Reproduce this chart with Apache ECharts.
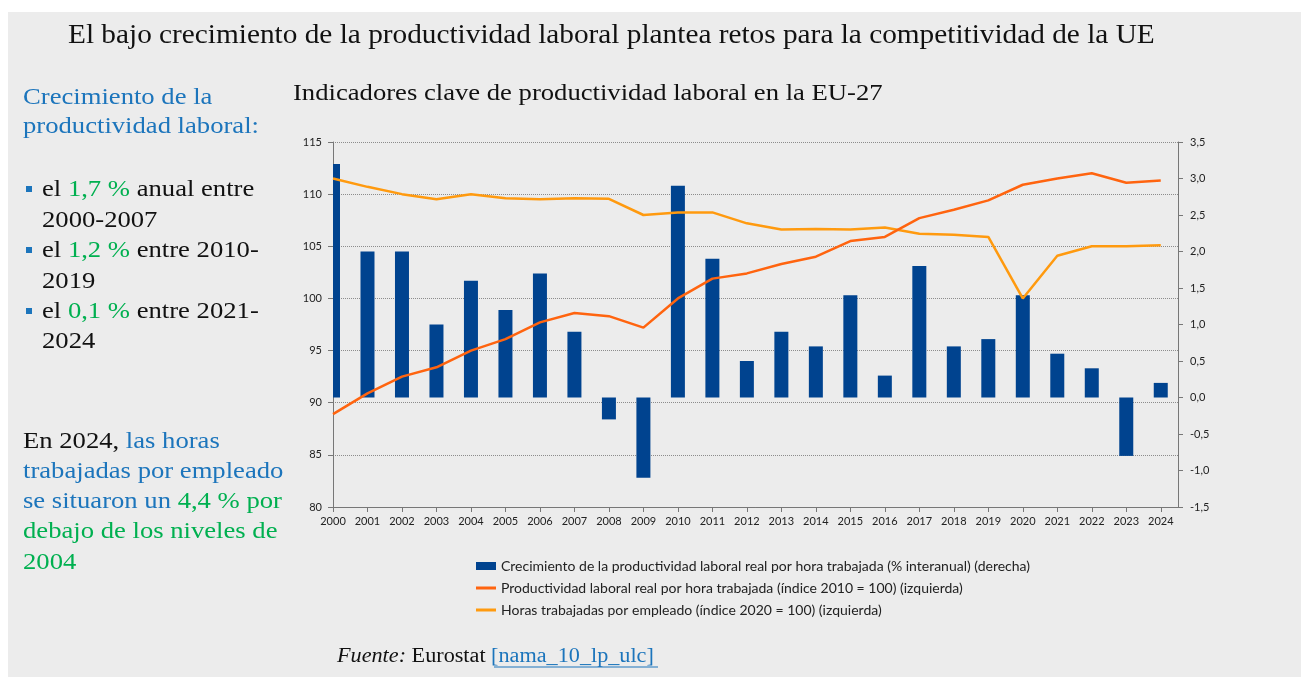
<!DOCTYPE html>
<html lang="es">
<head>
<meta charset="UTF-8">
<title>Productividad laboral EU-27</title>
<script src="https://cdn.jsdelivr.net/npm/echarts@6/dist/echarts.min.js"></script>
<style>
  body { margin: 0; background: #ffffff; }
  #panel { position: absolute; left: 8px; top: 12px; width: 1293px; height: 665px; background: #ececec; }
  #main { position: absolute; left: 0; top: 0; width: 1301px; height: 677px; }
</style>
</head>
<body>
<div id="panel"></div>
<div id="main"></div>
<script>
  // años
  var years = [2000, 2001, 2002, 2003, 2004, 2005, 2006, 2007, 2008, 2009, 2010, 2011, 2012,
               2013, 2014, 2015, 2016, 2017, 2018, 2019, 2020, 2021, 2022, 2023, 2024];
  // crecimiento productividad real por hora (% interanual) - eje derecho
  var crecimiento = [3.2, 2.0, 2.0, 1.0, 1.6, 1.2, 1.7, 0.9, -0.3, -1.1, 2.9, 1.9, 0.5,
                     0.9, 0.7, 1.4, 0.3, 1.8, 0.7, 0.8, 1.4, 0.6, 0.4, -0.8, 0.2];
  // productividad laboral real por hora (2010 = 100) - eje izquierdo
  var productividad = [88.9, 90.9, 92.5, 93.4, 95.0, 96.1, 97.7, 98.6, 98.3, 97.2, 100.0, 101.9, 102.4,
                       103.3, 104.0, 105.5, 105.9, 107.7, 108.5, 109.4, 110.9, 111.5, 112.0, 111.1, 111.3];
  // horas trabajadas por empleado (2020 = 100) - eje izquierdo
  var horas = [111.5, 110.7, 110.0, 109.5, 110.0, 109.6, 109.5, 109.6, 109.55, 108.0, 108.25, 108.25, 107.2,
               106.6, 106.65, 106.6, 106.8, 106.2, 106.1, 105.9, 100.0, 104.1, 105.0, 105.0, 105.1];

  var nombres = [
    'Crecimiento de la productividad laboral real por hora trabajada (% interanual) (derecha)',
    'Productividad laboral real por hora trabajada (índice 2010 = 100) (izquierda)',
    'Horas trabajadas por empleado (índice 2020 = 100) (izquierda)'
  ];

  var azul = '#1c75bc', verde = '#00b050', negro = '#111111', barra = '#00438f';
  var serif = '"Liberation Serif", "Times New Roman", serif';
  var estirar = 1.11; // el texto de la referencia esta algo ensanchado

  function par(arr) {
    return years.map(function (y, i) { return [y, arr[i]]; });
  }

  function linea(x, y, rich, text, size) {
    return {
      type: 'text', x: x, y: y, scaleX: estirar, silent: true,
      style: { text: text, rich: rich, font: size + 'px ' + serif, fill: negro, verticalAlign: 'middle' }
    };
  }

  var r = {
    k: { fontFamily: serif, fontSize: 24, fill: negro },
    b: { fontFamily: serif, fontSize: 24, fill: azul },
    g: { fontFamily: serif, fontSize: 24, fill: verde }
  };

  var graficos = [
    linea(68, 36, {}, 'El bajo crecimiento de la productividad laboral plantea retos para la competitividad de la UE', 26.4),
    linea(293, 94, {}, 'Indicadores clave de productividad laboral en la EU-27', 24),
    linea(23, 98, r, '{b|Crecimiento de la}', 24),
    linea(23, 127, r, '{b|productividad laboral:}', 24),
    linea(42, 190, r, '{k|el }{g|1,7 %}{k| anual entre}', 24),
    linea(42, 221, r, '{k|2000-2007}', 24),
    linea(42, 251, r, '{k|el }{g|1,2 %}{k| entre 2010-}', 24),
    linea(42, 282, r, '{k|2019}', 24),
    linea(42, 312, r, '{k|el }{g|0,1 %}{k| entre 2021-}', 24),
    linea(42, 342, r, '{k|2024}', 24),
    linea(23, 442, r, '{k|En 2024, }{b|las horas}', 24),
    linea(23, 472, r, '{b|trabajadas por empleado}', 24),
    linea(23, 502, r, '{b|se situaron un }{g|4,4 % por}', 24),
    linea(23, 532, r, '{g|debajo de los niveles de}', 24),
    linea(23, 563, r, '{g|2004}', 24),
    linea(337, 657, {
      i: { fontFamily: serif, fontSize: 20, fontStyle: 'italic', fill: negro },
      k: { fontFamily: serif, fontSize: 20, fill: negro },
      l: { fontFamily: serif, fontSize: 20, fill: azul }
    }, '{i|Fuente:}{k| Eurostat }{l|[nama_10_lp_ulc]}', 20),
    // subrayado del enlace
    { type: 'line', silent: true, shape: { x1: 494, y1: 667, x2: 658, y2: 667 },
      style: { stroke: azul, lineWidth: 1 } }
  ];
  // viñetas
  [189, 250, 311].forEach(function (cy) {
    graficos.push({ type: 'rect', silent: true, shape: { x: 26, y: cy - 3, width: 6, height: 6 }, style: { fill: azul } });
  });

  // barras recortadas al area del grid (la de 2000 queda partida por el eje, como en Excel)
  function pintarBarra(params, api) {
    var x = api.value(0), v = api.value(1);
    var p0 = api.coord([x, 0]);
    var p1 = api.coord([x, v]);
    var w = 14;
    var cs = params.coordSys;
    var rect = echarts.graphic.clipRectByRect(
      { x: p0[0] - w / 2, y: Math.min(p0[1], p1[1]), width: w, height: Math.abs(p1[1] - p0[1]) },
      { x: cs.x, y: cs.y, width: cs.width, height: cs.height }
    );
    return rect && { type: 'rect', shape: rect, style: { fill: barra } };
  }

  var chart = echarts.init(document.getElementById('main'));

  chart.setOption({
    animation: false,
    graphic: graficos,
    grid: { left: 333, right: 123, top: 142, bottom: 170, containLabel: false },
    legend: {
      orient: 'vertical', left: 476, top: 558, padding: 0,
      itemWidth: 20, itemHeight: 8, itemGap: 6,
      textStyle: { fontFamily: 'Lato', fontSize: 14, color: '#222', lineHeight: 16 },
      data: [
        { name: nombres[0], icon: 'rect' },
        { name: nombres[1], icon: 'path://M0,0 L20,0 L20,3 L0,3 Z' },
        { name: nombres[2], icon: 'path://M0,0 L20,0 L20,3 L0,3 Z' }
      ]
    },
    xAxis: {
      type: 'value', min: 2000, max: 2024.5, interval: 1,
      axisLine: { onZero: false, lineStyle: { color: '#777', width: 1 } },
      axisTick: { show: true, length: 5, lineStyle: { color: '#777' } },
      axisLabel: {
        margin: 9, showMaxLabel: false, showMinLabel: true,
        fontFamily: 'Lato', fontSize: 11, color: '#222',
        formatter: function (v) { return v % 1 === 0 ? String(v) : ''; }
      },
      splitLine: { show: false }
    },
    yAxis: [
      {
        type: 'value', min: 80, max: 115, interval: 5, position: 'left',
        axisLine: { show: true, lineStyle: { color: '#777' } },
        axisTick: { show: true, length: 5, lineStyle: { color: '#777' } },
        axisLabel: { margin: 11, fontFamily: 'Lato', fontSize: 11, color: '#222' },
        splitLine: { show: true, lineStyle: { color: '#8c8c8c', type: 'dotted', width: 1 } }
      },
      {
        type: 'value', min: -1.5, max: 3.5, interval: 0.5, position: 'right',
        axisLine: { show: true, lineStyle: { color: '#777' } },
        axisTick: { show: true, length: 5, lineStyle: { color: '#777' } },
        axisLabel: {
          margin: 12, fontFamily: 'Lato', fontSize: 11, color: '#222',
          formatter: function (v) { return v.toFixed(1).replace('.', ','); }
        },
        splitLine: { show: false }
      }
    ],
    series: [
      {
        name: nombres[0], type: 'custom', yAxisIndex: 1,
        renderItem: pintarBarra,
        encode: { x: 0, y: 1 },
        itemStyle: { color: barra },
        data: par(crecimiento), z: 2
      },
      {
        name: nombres[1], type: 'line', yAxisIndex: 0, showSymbol: false, symbol: 'none',
        lineStyle: { color: '#ff640f', width: 2.5 }, itemStyle: { color: '#ff640f' },
        data: par(productividad), z: 4
      },
      {
        name: nombres[2], type: 'line', yAxisIndex: 0, showSymbol: false, symbol: 'none',
        lineStyle: { color: '#ff9a0f', width: 2.5 }, itemStyle: { color: '#ff9a0f' },
        data: par(horas), z: 3
      }
    ]
  });
</script>
</body>
</html>
